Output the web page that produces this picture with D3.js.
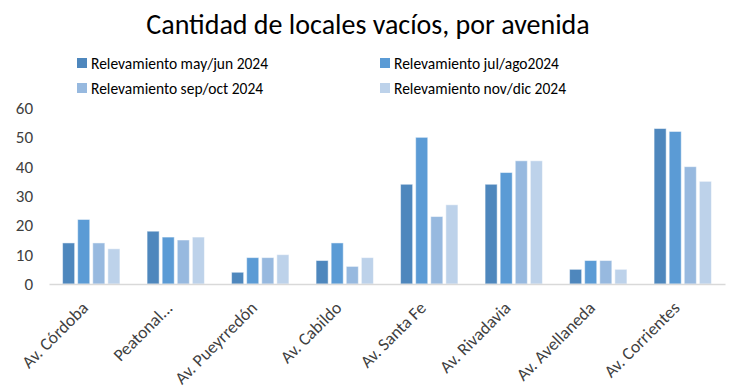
<!DOCTYPE html>
<html>
<head>
<meta charset="utf-8">
<script src="https://cdn.jsdelivr.net/npm/d3@7"></script>
<style>
  body { margin: 0; background: #fff; }
  text { font-family: Carlito, Lato, "Open Sans", sans-serif; fill: #404040; }
</style>
</head>
<body>
<div class="canvas"></div>
<script>
// data
const avenidas = ['Av. Córdoba', 'Peatonal...', 'Av. Pueyrredón', 'Av. Cabildo',
                  'Av. Santa Fe', 'Av. Rivadavia', 'Av. Avellaneda', 'Av. Corrientes'];
const series = ['Relevamiento may/jun 2024', 'Relevamiento jul/ago2024',
                'Relevamiento sep/oct 2024', 'Relevamiento nov/dic 2024'];
const mayJun = [14, 18, 4, 8, 34, 34, 5, 53];
const julAgo = [22, 16, 9, 14, 50, 38, 8, 52];
const sepOct = [14, 15, 9, 6, 23, 42, 8, 40];
const novDic = [12, 16, 10, 9, 27, 42, 5, 35];
const yTicks = [0, 10, 20, 30, 40, 50, 60];

const colors = ['#4e87bd', '#5b9bd5', '#97b9df', '#bdd2ea'];
const values = [mayJun, julAgo, sepOct, novDic];

const width = 730, height = 388;
const margin = {top: 108, bottom: 104, left: 49, right: 5};
const graphWidth = width - margin.left - margin.right;
const graphHeight = height - margin.top - margin.bottom;

const svg = d3.select('.canvas')
  .append('svg')
  .attr('width', width)
  .attr('height', height);

// title
svg.append('text')
  .attr('x', 368)
  .attr('y', 34)
  .attr('text-anchor', 'middle')
  .style('font-size', '28px')
  .style('fill', '#000')
  .text('Cantidad de locales vacíos, por avenida');

// legend
const legendPos = [[77, 63], [380, 63], [77, 88], [380, 88]];
series.forEach((s, i) => {
  const g = svg.append('g').attr('transform', `translate(${legendPos[i][0]}, ${legendPos[i][1]})`);
  g.append('rect').attr('x', 0).attr('y', -5).attr('width', 10).attr('height', 10)
    .attr('fill', colors[i]);
  g.append('text').attr('x', 14).attr('y', 6)
    .style('font-size', '15.5px').style('fill', '#000').text(s);
});

const graph = svg.append('g')
  .attr('transform', `translate(${margin.left}, ${margin.top})`);

const x = d3.scaleBand()
  .domain(avenidas)
  .range([0, graphWidth]);

const x1 = d3.scaleBand()
  .domain(d3.range(series.length))
  .range([0, x.bandwidth()])
  .paddingInner(0.2)
  .paddingOuter(0.9);

const y = d3.scaleLinear()
  .domain([0, 60])
  .range([graphHeight, 0]);

// bars
values.forEach((vals, si) => {
  graph.selectAll('.bar' + si)
    .data(vals)
    .enter()
    .append('rect')
    .attr('x', (d, i) => x(avenidas[i]) + x1(si))
    .attr('y', d => y(d))
    .attr('width', x1.bandwidth())
    .attr('height', d => graphHeight - y(d))
    .attr('fill', colors[si])
    .attr('stroke', '#fff')
    .attr('stroke-opacity', 0.5)
    .attr('stroke-width', 1);
});

// axes
const yAxis = d3.axisLeft(y).tickValues(yTicks).tickSize(0).tickPadding(16);
const yAxisGroup = graph.append('g').call(yAxis);
yAxisGroup.select('.domain').remove();
yAxisGroup.selectAll('text').style('font-size', '17px').style('font-family', 'Carlito, Lato, sans-serif').attr('fill', '#404040');

const xAxis = d3.axisBottom(x).tickSize(0).tickPadding(0);
const xAxisGroup = graph.append('g')
  .attr('transform', `translate(0, ${graphHeight})`)
  .call(xAxis);
xAxisGroup.select('.domain').attr('stroke', '#d9d9d9').attr('stroke-width', 1.5);
xAxisGroup.selectAll('text')
  .style('font-size', '17.5px')
  .style('font-family', 'Carlito, Lato, sans-serif')
  .attr('fill', '#404040')
  .attr('text-anchor', 'end')
  .attr('dy', 0)
  .attr('transform', 'translate(-2, 25) rotate(-45)');
</script>
</body>
</html>
